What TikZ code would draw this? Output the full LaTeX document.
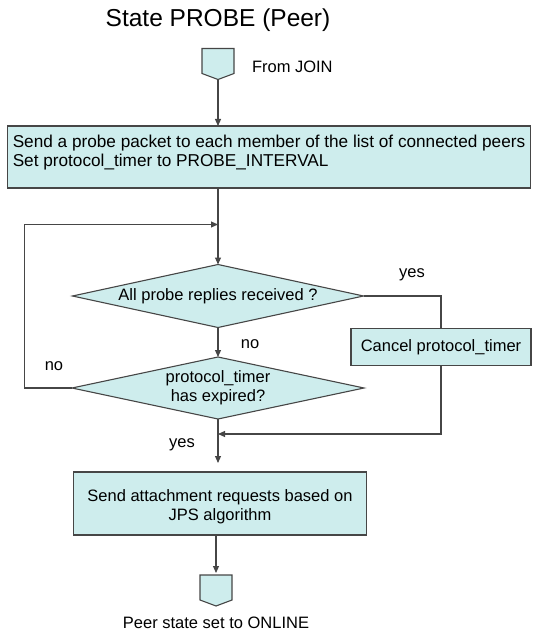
\documentclass[tikz,border=0pt]{standalone}
\usepackage{fontspec}
\setmainfont{Liberation Sans}
\usetikzlibrary{positioning,shapes.geometric,arrows.meta}

\definecolor{boxfill}{RGB}{206,237,237}
\definecolor{linegray}{RGB}{70,70,70}

\begin{document}
\begin{tikzpicture}
[x=1pt,y=-1pt,
 every node/.style={inner sep=0pt,outer sep=0pt,font=\fontsize{16.5}{19}\selectfont},
 proc/.style={rectangle,draw=linegray,fill=boxfill,line width=1.1pt},
 test/.style={diamond,aspect=4.6,draw=linegray,fill=boxfill,line width=1.1pt,align=center},
 port/.style={rectangle,minimum width=32pt,minimum height=25pt,
              append after command={\pgfextra{\draw[draw=linegray,fill=boxfill,line width=1.1pt]
                (\tikzlastnode.north west) -- (\tikzlastnode.north east)
                -- (\tikzlastnode.south east) -- ([yshift=-6pt]\tikzlastnode.south)
                -- (\tikzlastnode.south west) -- cycle;}}},
 lbl/.style={},
 >={Triangle[length=7pt,width=6pt]},
 line width=1.1pt,draw=linegray]
\useasboundingbox (0,0) rectangle (533,631);

\node (title) at (218,20) {\fontsize{24.5}{26}\selectfont State PROBE (Peer)};
\node[port] (join)    [on grid,below=41pt of title]                 {};
\node[proc,minimum width=523pt,minimum height=62pt,align=left,text depth=13pt,
      font=\fontsize{17.2}{19}\selectfont]
                      (send)    [on grid,below right=96pt and 51pt of join]
      {Send a probe packet to each member of the list of connected peers\\
       Set protocol\_timer to PROBE\_INTERVAL};
\node[test,minimum width=291pt,minimum height=63pt]
                      (all)     [on grid,below left=139pt and 51pt of send] {All probe replies received ?};
\node[proc,minimum width=180pt,minimum height=37pt]
                      (cancel)  [on grid,below right=51pt and 223pt of all] {Cancel protocol\_timer};
\node[test,minimum width=292pt,minimum height=62pt]
                      (expired) [on grid,below=92pt of all]          {protocol\_timer\\has expired?};
\node[proc,minimum width=293pt,minimum height=63pt,align=center,text height=38pt]
                      (attach)  [on grid,below right=115.5pt and 2pt of expired]
      {Send attachment requests based on\\JPS algorithm};
\node[port] (online)  [on grid,below left=84pt and 4pt of attach] {};

% labels
\node[lbl] (fromjoin) [right=18pt of join,yshift=-6pt]              {From JOIN};
\node[lbl] (toonline) [below=17pt of online]                        {Peer state set to ONLINE};
\node[lbl] (yesA)     [on grid,above right=21pt and 194pt of all]   {yes};
\node[lbl] (noA)      [on grid,below right=48pt and 32pt of all]    {no};
\node[lbl] (noB)      [on grid,above left=22pt and 164pt of expired] {no};
\node[lbl] (yesB)     [on grid,below left=57pt and 36pt of expired] {yes};

% junction points on the main line
\path (all.north) ++(0,-40) coordinate (merge);
\path (expired.south) ++(0,15) coordinate (rejoin);

\draw[->] ([yshift=-6pt]join.south) -- (join.south |- send.north);
\draw[->] (send.south -| all.north) -- (all.north);
\draw[->] (expired.west) -- ++(-47.5,0) |- (merge);
\draw[->] (all.south) -- (expired.north);
\draw     (all.east) -| (cancel.north);
\draw[->] (cancel.south) |- (rejoin);
\draw[->,shorten >=9pt] (expired.south) -- (expired.south |- attach.north);
\draw[->,shorten >=2pt] (attach.south -| online.north) -- (online.north);
\end{tikzpicture}
\end{document}
